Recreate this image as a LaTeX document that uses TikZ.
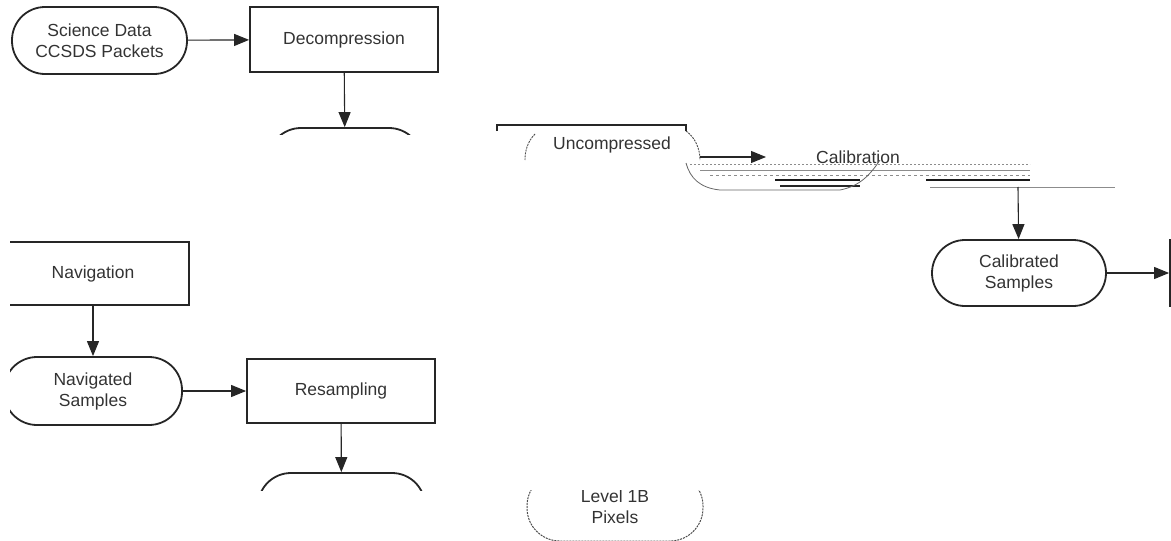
\documentclass[tikz,border=0pt]{standalone}
\usepackage{fontspec}
\setmainfont{Liberation Sans}
\usetikzlibrary{arrows.meta}
\begin{document}
\begin{tikzpicture}[x=1pt,y=-1pt,
  base/.style={draw=black!85, line width=1.8pt, align=center, text=black!80, font=\fontsize{17.5}{21}\selectfont, inner sep=0pt},
  term/.style={base, rounded corners=33pt, minimum height=67pt},
  proc/.style={base, minimum height=64pt},
  frag/.style={draw=black!70, line width=0.9pt, dash pattern=on 2pt off 1pt},
  streak/.style={draw=black!45, line width=0.8pt},
  arr/.style={-{Triangle[length=15pt,width=12pt]}, line width=1.1pt, draw=black!85}]
\useasboundingbox (0,0) rectangle (1171,541);

% top row
\node[term, minimum width=175pt] (sci) at (99.5,40.5) {Science Data\\CCSDS Packets};
\node[proc, minimum width=188pt, minimum height=65pt] (dec) at (344,39.5) {Decompression};
\draw[arr] (sci) -- (dec);

\begin{scope}
  \clip (240,118) rectangle (440,134);
  \node[term, minimum width=154pt] (unc) at (345,161.5) {};
\end{scope}
\draw[arr] (dec) -- (unc);

% glitched "Uncompressed Samples" fragment
\draw[line width=1.8pt, draw=black!85] (497,131) |- (686,125) -- (686,131);
\node[base, draw=none] (unctext) at (612,145) {Uncompressed};
\draw[frag] (535,134) .. controls (527,142) and (525,152) .. (525,160);
\draw[frag] (686,131) .. controls (696,138) and (700,150) .. (700,160);
\coordinate (ua) at (700,157);
\coordinate (ub) at (766,157);
\draw[arr] (ua) -- (ub);
\begin{scope}
  \clip (780,140) rectangle (940,163);
  \node[base, draw=none] (caltext) at (858,157) {Calibration};
\end{scope}

% streaks of the broken band
\draw[streak, dash pattern=on 2pt off 2pt] (690,164) -- (1030,164);
\draw[streak] (700,170) -- (1030,170);
\draw[streak, dash pattern=on 3pt off 3pt] (710,175) -- (1030,175);
\draw[black!90, line width=1.6pt] (775,180) -- (860,180);
\draw[black!90, line width=2pt] (926,180) -- (1030,180);
\draw[black!85, line width=1.2pt] (780,186) -- (860,186);
\draw[streak] (930,187) -- (1115,187);
\draw[black!60, line width=0.8pt] (686,163) .. controls (690,178) and (700,188) .. (720,190) -- (840,190) .. controls (860,186) and (870,175) .. (880,160);
\coordinate (cb) at (1018,187);

% right: calibrated samples
\node[term, minimum width=174pt, minimum height=66pt] (cals) at (1019,273) {Calibrated\\Samples};
\draw[arr] (cb) -- (cals);
\begin{scope}
  \clip (1100,200) rectangle (1171,330);
  \node[proc, minimum width=188pt, minimum height=66pt] (nextp) at (1264,273) {};
\end{scope}
\draw[arr] (cals) -- (nextp);

% left lower column
\begin{scope}
  \clip (10,200) rectangle (300,440);
  \node[proc, minimum width=192pt, minimum height=63pt] (nav) at (93,273.5) {Navigation};
  \node[term, minimum width=178pt, minimum height=68pt] (navs) at (93,391) {Navigated\\Samples};
\end{scope}
\draw[arr] (nav) -- (navs);
\node[proc, minimum width=188pt, minimum height=64pt] (res) at (341,391) {Resampling};
\draw[arr] (navs) -- (res);
\begin{scope}
  \clip (240,465) rectangle (440,490);
  \node[term, minimum width=167pt] (l1b) at (341.5,506.5) {};
\end{scope}
\draw[arr] (res) -- (l1b);

% glitched Level 1B Pixels fragment
\begin{scope}
  \clip (515,490) rectangle (715,541);
  \node[term, draw=black!70, line width=1pt, dash pattern=on 2pt off 1pt, minimum width=176pt, minimum height=68pt] (l1bfrag) at (615,507) {Level 1B\\Pixels};
\end{scope}
\end{tikzpicture}
\end{document}
